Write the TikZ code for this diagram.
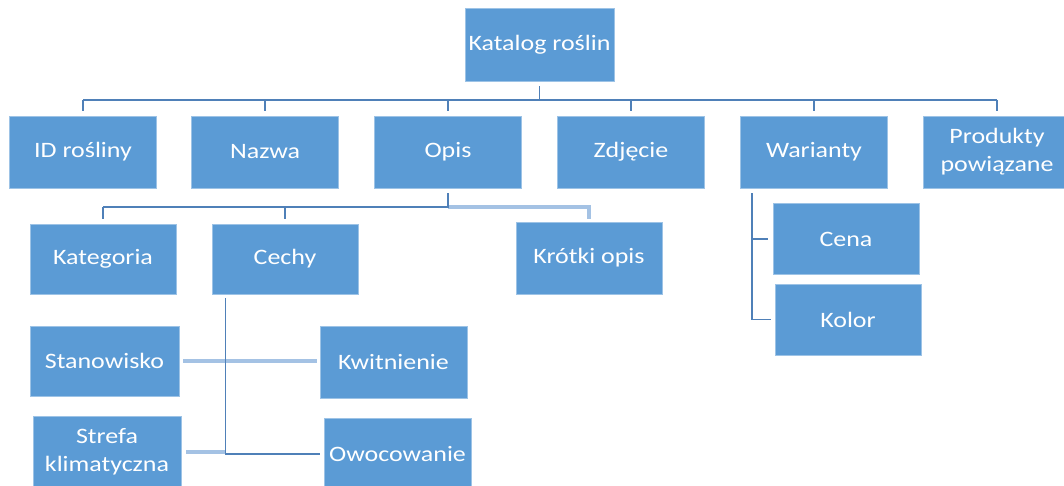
\documentclass[tikz,border=0pt]{standalone}
\usepackage{fontspec}
\setmainfont{Carlito}[FakeStretch=1.18]
\definecolor{boxfill}{HTML}{5B9BD5}
\definecolor{boxedge}{HTML}{9DC3E6}
\definecolor{conndark}{HTML}{4F80B8}
\definecolor{connlight}{HTML}{A4C2E4}
\begin{document}
\begin{tikzpicture}[x=1pt,y=-1pt,
  box/.style={fill=boxfill, draw=boxedge, line width=0.8pt, minimum width=147pt,
    minimum height=72pt, inner sep=0pt, text=white, align=center,
    font=\fontsize{22}{28}\selectfont},
  conn/.style={draw=conndark, line width=1.6pt},
  lightconn/.style={draw=connlight, line width=3.2pt}]
\useasboundingbox (0,0) rectangle (1064,486);
% nodes
\node[box, minimum width=149pt, minimum height=73pt] (kat) at (539.5,44.5) {Katalog roślin};
\node[box] (id)    at (83,152)  {ID rośliny};
\node[box] (nazwa) at (265,152) {Nazwa};
\node[box] (opis)  at (448,152) {Opis};
\node[box] (zdj)   at (631,152) {Zdjęcie};
\node[box] (war)   at (814,152) {Warianty};
\node[box] (prod)  at (997,152) {Produkty\\powiązane};
\node[box, minimum width=146pt, minimum height=70pt] (kateg)  at (103,259) {Kategoria};
\node[box, minimum width=146pt, minimum height=70pt] (cechy)  at (285,259) {Cechy};
\node[box, minimum width=146pt, minimum height=72pt] (krotki) at (589,258) {Krótki opis};
\node[box, minimum width=149pt, minimum height=70pt] (stan)   at (104.5,361) {Stanowisko};
\node[box] (kwit)   at (393.5,362) {Kwitnienie};
\node[box, minimum width=148pt] (strefa) at (107,452) {Strefa\\klimatyczna};
\node[box] (owoc)   at (397.5,454) {Owocowanie};
\node[box, minimum width=146pt, minimum height=71pt] (cena)  at (846,239) {Cena};
\node[box, minimum width=146pt, minimum height=71pt] (kolor) at (848,319.5) {Kolor};
% top level
\coordinate (bus1) at (0,100);
\draw[conn, shorten <=5pt] (kat.south) -- (kat.south |- bus1);
\draw[conn] (id.north |- bus1) -- (prod.north |- bus1);
\foreach \n in {id,nazwa,opis,zdj,war,prod}
  \draw[conn, shorten >=5pt] (\n.north |- bus1) -- (\n.north);
% Opis
\coordinate (bus2) at (0,207);
\draw[lightconn, shorten >=3pt] (opis.south |- bus2) -- (krotki.north |- bus2) -- (krotki.north);
\draw[conn, shorten <=5pt] (opis.south) -- (opis.south |- bus2) -- (kateg.north |- bus2);
\draw[conn, shorten >=5pt] (kateg.north |- bus2) -- (kateg.north);
\draw[conn, shorten >=5pt] (cechy.north |- bus2) -- (cechy.north);
% Cechy
\coordinate (cs) at ([xshift=14pt]cechy.south west);
\draw[lightconn, shorten <=4pt, shorten >=3pt] (stan.east) -- (kwit.west |- stan.east);
\draw[lightconn, shorten <=5pt] (strefa.east) -- (cs |- strefa.east);
\draw[conn, shorten >=4pt] ([yshift=-4pt]cs) |- (owoc.west);
% Warianty
\coordinate (ws) at ([xshift=12pt]war.south west);
\draw[conn, shorten >=4pt] ([yshift=-5pt]ws) |- (kolor.west);
\draw[conn, shorten >=5pt] (ws |- cena.west) -- (cena.west);
\end{tikzpicture}
\end{document}
